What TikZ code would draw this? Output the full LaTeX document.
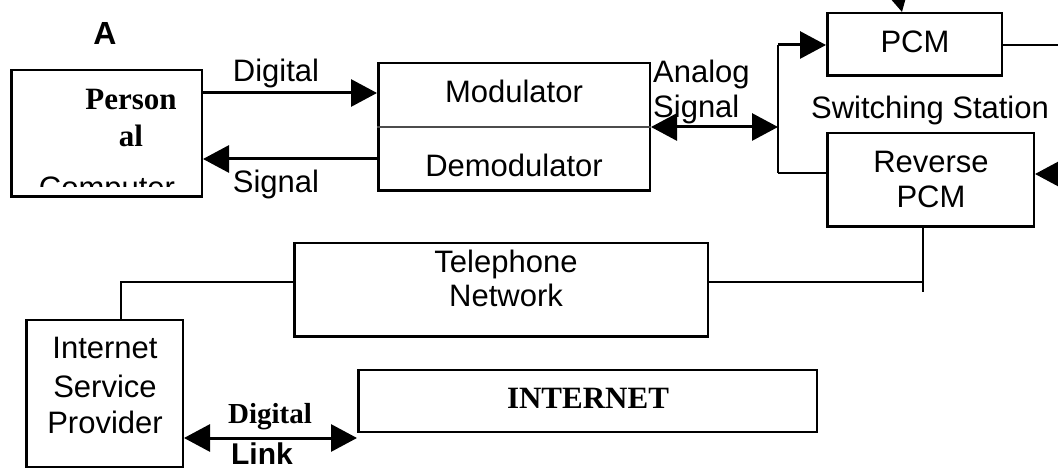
\documentclass[tikz,border=0pt]{standalone}
\usepackage{fontspec}
\setmainfont{Liberation Serif}
\setsansfont{Liberation Sans}
\usetikzlibrary{arrows.meta}
\begin{document}
\begin{tikzpicture}[x=1pt,y=-1pt,
  box/.style={draw, line width=2.5pt, inner sep=0pt},
  sans/.style={inner sep=0pt, anchor=base, font=\sffamily\fontsize{31}{35}\selectfont},
  sansl/.style={sans, anchor=base west},
  serifb/.style={inner sep=0pt, anchor=base, font=\rmfamily\bfseries\fontsize{31}{35}\selectfont},
  tip/.tip={Triangle[length=26pt,width=27pt]},
  arr/.style={line width=3pt, -tip},
  darr/.style={line width=3pt, tip-tip},
  wire/.style={line width=2pt}
]
\clip (0,0) rectangle (1058,470);

% boxes
\node[box, minimum width=190.5pt, minimum height=126.5pt] (pc)   at (106.5,133.5) {};
\node[box, minimum width=271.5pt, minimum height=127.5pt] (mod)  at (514,127) {};
\node[box, minimum width=174.5pt, minimum height=62.5pt]  (pcm)  at (914.5,44.5) {};
\node[box, minimum width=206.5pt, minimum height=93.5pt]  (rpcm) at (930.5,180) {};
\node[box, minimum width=413.5pt, minimum height=93.5pt]  (tel)  at (501,290) {};
\node[box, minimum width=156.5pt, minimum height=146.5pt] (isp)  at (104.5,393.5) {};
\node[box, minimum width=458.5pt, minimum height=61.5pt]  (inet) at (587.5,401) {};

% modulator / demodulator divider
\draw[line width=1.5pt, black!70] (mod.west) -- (mod.east);

% texts
\node[inner sep=0pt, anchor=base, font=\sffamily\bfseries\fontsize{32}{36}\selectfont] (lblA) at (105,45) {A};
\begin{scope}
  \clip (10,69) rectangle (203,187);
  \node[serifb] (pc1) at (131,110) {Person};
  \node[serifb] (pc2) at (131,147) {al};
  \node[sans]   (pc3) at (107,199) {Computer};
\end{scope}
\node[sans] (digT) at (276,82) {Digital};
\node[sans] (sigB) at (276,193) {Signal};
\node[sans] (modT) at (514,103) {Modulator};
\node[sans] (demT) at (514,177) {Demodulator};
\node[sansl] (anaT) at (653,83) {Analog};
\node[sansl] (anaS) at (653,118) {Signal};
\node[sans] (pcmT) at (915,53) {PCM};
\node[sans] (swT)  at (930,119) {Switching Station};
\node[sans] (rpT1) at (931,173) {Reverse};
\node[sans] (rpT2) at (931,208) {PCM};
\node[sans] (telT1) at (506,273) {Telephone};
\node[sans] (telT2) at (506,307) {Network};
\node[sans] (ispT1) at (105,359) {Internet};
\node[sans] (ispT2) at (105,397) {Service};
\node[sans] (ispT3) at (105,433) {Provider};
\node[inner sep=0pt, anchor=base, font=\rmfamily\bfseries\fontsize{29}{33}\selectfont] (dlT) at (270,423) {Digital};
\node[inner sep=0pt, anchor=base, font=\sffamily\bfseries\fontsize{30}{34}\selectfont] (lkT) at (262,464) {Link};
\node[serifb] (inetT) at (588,408) {INTERNET};

% switching-station junction points and off-page ends
\coordinate (swTop) at (778,45);
\coordinate (swMid) at (778,127);
\coordinate (swBot) at (778,173);
\coordinate (inTop) at (889,-45);
\coordinate (outR)  at (1100,45);
\coordinate (inR)   at (1100,174);
\coordinate (telJ)  at (922.5,282);
\coordinate (telE)  at (922.5,292);
\coordinate (ispJ)  at (121,282);

% connectors
\draw[arr] (pc.east |- 0,93) -- (mod.west |- 0,93);
\draw[arr] (mod.west |- 0,159) -- (pc.east |- 0,159);
\draw[darr] (mod.east) -- (swMid);
\draw[wire] (swBot) -- (swTop);
\draw[arr] (swTop) -- (pcm.west |- swTop);
\draw[wire] (swBot) -- (rpcm.west |- swBot);
\draw[arr] (inTop) -- (902,12);
\draw[wire] (pcm.east |- outR) -- (outR);
\draw[arr] (inR) -- (rpcm.east |- inR);
\draw[wire] (rpcm.south -| telJ) -- (telE);
\draw[wire] (tel.east |- telJ) -- (telJ);
\draw[wire] (tel.west |- ispJ) -- (ispJ) -- (isp.north -| ispJ);
\draw[darr] (isp.east |- 0,438) -- (inet.west |- 0,438);
\end{tikzpicture}
\end{document}
